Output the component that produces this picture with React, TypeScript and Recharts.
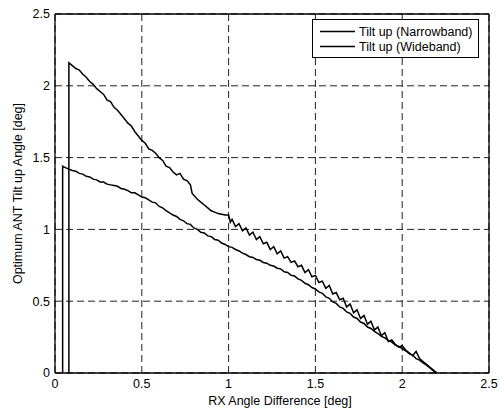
import { LineChart, Line, XAxis, YAxis, CartesianGrid, Legend, ReferenceLine } from "recharts"

const xTicks = [0, 0.5, 1, 1.5, 2, 2.5]
const yTicks = [0, 0.5, 1, 1.5, 2, 2.5]

const narrowX = [
  0.044, 0.044, 0.06, 0.08, 0.1, 0.12, 0.14, 0.16, 0.18, 0.2, 0.22, 0.24, 0.26, 0.28, 0.3, 0.32, 0.34, 0.36, 0.38, 0.4,
  0.42, 0.44, 0.46, 0.48, 0.5, 0.52, 0.54, 0.56, 0.58, 0.6, 0.62, 0.64, 0.66, 0.68, 0.7, 0.72, 0.74, 0.76, 0.78, 0.8,
  0.82, 0.84, 0.86, 0.88, 0.9, 0.92, 0.94, 0.96, 0.98, 1.0, 1.02, 1.04, 1.06, 1.08, 1.1, 1.12, 1.14, 1.16, 1.18, 1.2,
  1.22, 1.24, 1.26, 1.28, 1.3, 1.32, 1.34, 1.36, 1.38, 1.4, 1.42, 1.44, 1.46, 1.48, 1.5, 1.52, 1.54, 1.56, 1.58, 1.6,
  1.62, 1.64, 1.66, 1.68, 1.7, 1.72, 1.74, 1.76, 1.78, 1.8, 1.82, 1.84, 1.86, 1.88, 1.9, 1.92, 1.94, 1.96, 1.98, 2.0,
  2.02, 2.04, 2.06, 2.08, 2.1, 2.12, 2.14, 2.16, 2.18, 2.2,
]
const narrowY = [
  0, 1.44, 1.43, 1.42, 1.41, 1.405, 1.39, 1.385, 1.37, 1.365, 1.35, 1.345, 1.33, 1.33, 1.315, 1.31, 1.305, 1.3, 1.285, 1.28,
  1.27, 1.255, 1.255, 1.24, 1.225, 1.22, 1.205, 1.19, 1.185, 1.16, 1.15, 1.13, 1.115, 1.1, 1.09, 1.07, 1.06, 1.04, 1.035, 1.01,
  1.0, 0.98, 0.975, 0.955, 0.95, 0.93, 0.925, 0.905, 0.895, 0.88, 0.875, 0.86, 0.85, 0.835, 0.825, 0.81, 0.805, 0.79, 0.785, 0.77,
  0.765, 0.75, 0.745, 0.73, 0.725, 0.705, 0.7, 0.68, 0.675, 0.655, 0.645, 0.625, 0.615, 0.595, 0.585, 0.565, 0.555, 0.53, 0.52, 0.495,
  0.485, 0.46, 0.45, 0.425, 0.415, 0.39, 0.38, 0.355, 0.345, 0.32, 0.31, 0.29, 0.275, 0.255, 0.245, 0.225, 0.215, 0.195, 0.185, 0.17,
  0.155, 0.135, 0.125, 0.1, 0.09, 0.07, 0.055, 0.035, 0.015, 0,
]

const wideX = [
  0.08, 0.08, 0.1, 0.12, 0.14, 0.16, 0.18, 0.2, 0.22, 0.24, 0.26, 0.28, 0.3, 0.32, 0.34, 0.36, 0.38, 0.4, 0.42, 0.44,
  0.46, 0.48, 0.5, 0.52, 0.54, 0.56, 0.58, 0.6, 0.62, 0.64, 0.66, 0.68, 0.7, 0.72, 0.74, 0.76, 0.78, 0.79, 0.82, 0.84,
  0.86, 0.88, 0.9, 0.92, 0.94, 0.96, 0.98, 1.0, 1.01, 1.02, 1.04, 1.06, 1.08, 1.1, 1.12, 1.14, 1.16, 1.18, 1.2, 1.22,
  1.24, 1.26, 1.28, 1.3, 1.32, 1.34, 1.36, 1.38, 1.4, 1.42, 1.44, 1.46, 1.48, 1.5, 1.52, 1.54, 1.56, 1.58, 1.6, 1.62,
  1.64, 1.66, 1.68, 1.7, 1.72, 1.74, 1.76, 1.78, 1.8, 1.82, 1.84, 1.86, 1.88, 1.9, 1.92, 1.94, 1.96, 1.98, 2.0, 2.02,
  2.04, 2.06, 2.08, 2.1, 2.12, 2.14, 2.16, 2.18, 2.2,
]
const wideY = [
  0, 2.16, 2.14, 2.12, 2.11, 2.08, 2.06, 2.03, 2.01, 1.98, 1.96, 1.94, 1.9, 1.89, 1.85, 1.83, 1.8, 1.77, 1.74, 1.72,
  1.68, 1.65, 1.62, 1.6, 1.56, 1.55, 1.53, 1.5, 1.48, 1.44, 1.43, 1.4, 1.38, 1.39, 1.35, 1.34, 1.31, 1.25, 1.21, 1.19,
  1.17, 1.15, 1.13, 1.12, 1.11, 1.105, 1.1, 1.1, 1.05, 1.07, 1.02, 1.04, 0.99, 1.01, 0.96, 0.98, 0.93, 0.95, 0.9, 0.91,
  0.86, 0.88, 0.83, 0.85, 0.8, 0.81, 0.77, 0.78, 0.74, 0.75, 0.7, 0.72, 0.67, 0.68, 0.63, 0.64, 0.59, 0.61, 0.55, 0.56,
  0.51, 0.52, 0.46, 0.48, 0.42, 0.44, 0.38, 0.4, 0.34, 0.36, 0.3, 0.32, 0.26, 0.28, 0.22, 0.23, 0.2, 0.18, 0.19, 0.16,
  0.14, 0.12, 0.15, 0.1, 0.08, 0.06, 0.04, 0.02, 0,
]

const seriesNames = ["Tilt up (Narrowband)", "Tilt up (Wideband)"]

const narrowData = narrowX.map((x, i) => ({ x, y: narrowY[i] }))
const wideData = wideX.map((x, i) => ({ x, y: wideY[i] }))

const font = "'Liberation Sans', Arial, Helvetica, sans-serif"

function LegendBox() {
  return (
    <div
      style={{
        width: 165,
        height: 33,
        border: "1px solid #000",
        background: "#fff",
        fontFamily: font,
        fontSize: 12.5,
        color: "#000",
        paddingTop: 4,
        boxSizing: "content-box",
      }}
    >
      {seriesNames.map((name) => (
        <div key={name} style={{ display: "flex", alignItems: "center", height: 15 }}>
          <svg width={46} height={15}>
            <line x1={7} y1={7.5} x2={42} y2={7.5} stroke="#000" strokeWidth={1.3} />
          </svg>
          <span>{name}</span>
        </div>
      ))}
    </div>
  )
}

function YLabel(props: any) {
  const vb = props.viewBox
  const cy = vb.y + vb.height / 2
  return (
    <text
      x={18}
      y={cy}
      transform={`rotate(-90, 18, ${cy})`}
      textAnchor="middle"
      dominantBaseline="central"
      fontFamily={font}
      fontSize={12.5}
      fill="#000"
    >
      Optimum ANT Tilt up Angle [deg]
    </text>
  )
}

export default function App() {
  return (
    <div style={{ position: "absolute", left: 0, top: 0, background: "#fff" }}>
      <LineChart width={504} height={409} margin={{ top: 14, right: 15, left: 0, bottom: 0 }}>
        <CartesianGrid stroke="#222" strokeDasharray="7 4" strokeWidth={1} />
        <XAxis
          type="number"
          dataKey="x"
          domain={[0, 2.5]}
          ticks={xTicks}
          tickFormatter={(v) => String(v)}
          height={36}
          tickSize={0}
          tickMargin={6}
          stroke="#000"
          strokeWidth={1.3}
          tick={{ fill: "#000", fontSize: 12.5, fontFamily: font }}
          label={{ value: "RX Angle Difference [deg]", position: "insideBottom", offset: 4, dx: 8, fill: "#000", fontSize: 12.5, fontFamily: font }}
        />
        <YAxis
          type="number"
          domain={[0, 2.5]}
          ticks={yTicks}
          tickFormatter={(v) => String(v)}
          width={55}
          tickSize={0}
          tickMargin={5}
          stroke="#000"
          strokeWidth={1.3}
          tick={{ fill: "#000", fontSize: 12.5, fontFamily: font }}
          label={<YLabel />}
        />
        <ReferenceLine y={2.5} stroke="#000" strokeWidth={1.3} />
        <ReferenceLine x={2.5} stroke="#000" strokeWidth={1.3} />
        <Legend
          layout="vertical"
          align="center"
          verticalAlign="middle"
          content={() => <LegendBox />}
          wrapperStyle={{ left: 312, top: 19, width: 167 }}
        />
        <Line
          data={narrowData}
          dataKey="y"
          name={seriesNames[0]}
          type="linear"
          stroke="#000"
          strokeWidth={1.5}
          dot={false}
          isAnimationActive={false}
        />
        <Line
          data={wideData}
          dataKey="y"
          name={seriesNames[1]}
          type="linear"
          stroke="#000"
          strokeWidth={1.5}
          dot={false}
          isAnimationActive={false}
        />
      </LineChart>
    </div>
  )
}
